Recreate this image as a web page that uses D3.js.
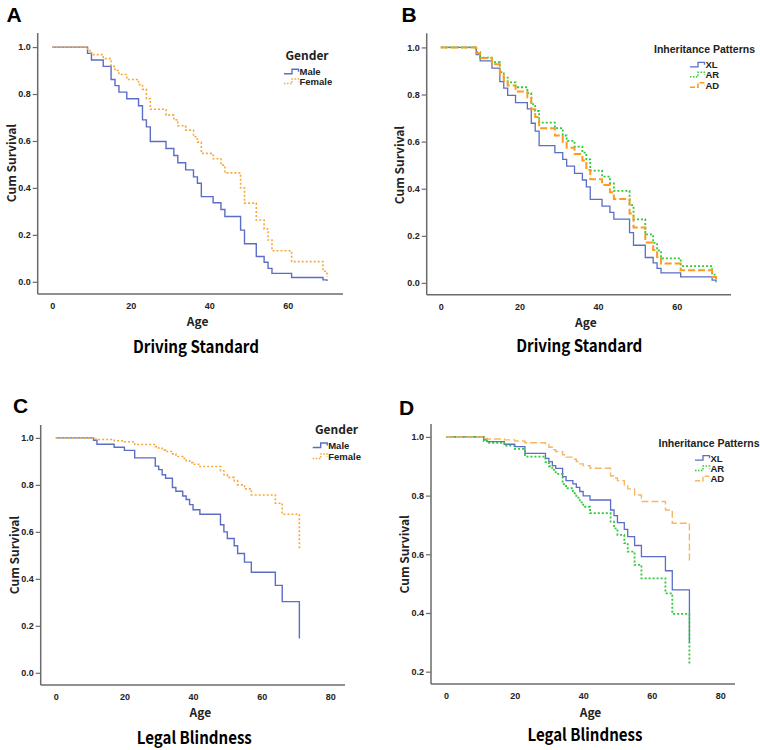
<!DOCTYPE html>
<html><head><meta charset="utf-8">
<script src="https://cdn.jsdelivr.net/npm/d3@7"></script>
<style>
body{margin:0;background:#fff;}
svg{display:block;}
</style></head>
<body>
<svg id="chart" width="760" height="750"></svg>
<script>
// ---------- DATA ----------
const agesDriving = [0,9,10,13,15,16,17,19,22,23,24,25,29,31,32,34,36,37,38,41,43,44,48,49,52,54,55,56,61,69,70];
const drivingMale   = [1,0.973,0.945,0.918,0.862,0.836,0.808,0.78,0.75,0.69,0.66,0.598,0.568,0.538,0.507,0.477,0.447,0.42,0.363,0.337,0.308,0.278,0.22,0.162,0.108,0.083,0.057,0.036,0.018,0.008,0.003];
const drivingFemale = [1,0.985,0.968,0.951,0.918,0.9,0.883,0.862,0.84,0.82,0.78,0.735,0.71,0.69,0.665,0.646,0.618,0.595,0.547,0.524,0.497,0.464,0.40,0.335,0.263,0.225,0.178,0.132,0.086,0.045,0.02];
const drivingXL = [1,0.97,0.943,0.912,0.855,0.827,0.796,0.766,0.739,0.678,0.645,0.583,0.553,0.525,0.496,0.465,0.437,0.408,0.355,0.326,0.3,0.271,0.214,0.16,0.108,0.085,0.062,0.043,0.026,0.012,0.003];
const drivingAR = [1,0.98,0.957,0.937,0.895,0.872,0.852,0.831,0.806,0.759,0.73,0.681,0.657,0.626,0.603,0.579,0.553,0.525,0.477,0.451,0.423,0.391,0.33,0.27,0.206,0.17,0.138,0.104,0.071,0.035,0.01];
const drivingAD = [1,0.975,0.955,0.929,0.884,0.86,0.838,0.813,0.787,0.738,0.705,0.657,0.626,0.6,0.574,0.547,0.52,0.48,0.44,0.416,0.385,0.356,0.295,0.235,0.172,0.14,0.11,0.082,0.054,0.025,0.005];

const agesBlind = [0,11,12,17,20,23,29,30,31,32,34,35,37,38,39,40,42,48,49,50,52,53,55,57,64,66,71];
const blindMale   = [1,0.99,0.973,0.96,0.947,0.915,0.88,0.865,0.843,0.828,0.789,0.773,0.753,0.738,0.716,0.694,0.675,0.63,0.6,0.572,0.541,0.508,0.471,0.428,0.372,0.303,0.146];
const blindFemale = [1,0.995,0.993,0.988,0.984,0.972,0.963,0.956,0.948,0.942,0.932,0.921,0.913,0.903,0.895,0.888,0.878,0.86,0.843,0.832,0.818,0.8,0.783,0.757,0.722,0.675,0.53];
const blindXL = [1,0.99,0.984,0.975,0.967,0.944,0.927,0.916,0.902,0.893,0.865,0.851,0.84,0.828,0.814,0.799,0.785,0.751,0.732,0.708,0.685,0.66,0.63,0.592,0.544,0.479,0.30];
const blindAR = [1,0.986,0.98,0.97,0.959,0.933,0.914,0.9,0.888,0.874,0.839,0.825,0.808,0.793,0.777,0.762,0.74,0.711,0.688,0.666,0.638,0.609,0.564,0.518,0.467,0.397,0.225];
const blindAD = [1,0.995,0.993,0.99,0.986,0.98,0.974,0.965,0.956,0.95,0.939,0.931,0.924,0.916,0.908,0.902,0.893,0.867,0.86,0.851,0.836,0.823,0.802,0.78,0.751,0.706,0.569];

const xTicksDriving = [0,20,40,60];
const xTicksBlind = [0,20,40,60,80];
const yTicksFull = [0.0,0.2,0.4,0.6,0.8,1.0];
const yTicksD = [0.2,0.4,0.6,0.8,1.0];
const genderNames = ["Male","Female"];
const patternNames = ["XL","AR","AD"];
const panelLetters = ["A","B","C","D"];
const panelTitles = ["Driving Standard","Driving Standard","Legal Blindness","Legal Blindness"];

// ---------- STYLES ----------
const BLUE = "#5a6ec6", ORANGE_DOT = "#f7a83c", GREEN = "#2fc93a", ORANGE_B = "#ff9a1f", ORANGE_D = "#f8b664";
const styleMale   = {color:BLUE, width:1.4, dash:null};
const styleFemale = {color:ORANGE_DOT, width:1.6, dash:"2,2"};
const styleXL = {color:BLUE, width:1.3, dash:null};
const styleAR = {color:GREEN, width:1.8, dash:"2,2"};
const styleADB = {color:ORANGE_B, width:2, dash:"7,3"};
const styleADD = {color:ORANGE_D, width:1.4, dash:"7,3"};

const panels = [
  {letter:panelLetters[0], title:panelTitles[0], ages:agesDriving, xTicks:xTicksDriving, yTicks:yTicksFull,
   xd:[-3.7,74.1], yd:[-0.052,1.06], left:37.7, right:343, top:33, bottom:294,
   series:[[drivingMale,styleMale],[drivingFemale,styleFemale]],
   legendTitle:"Gender", legendNames:genderNames, legendTitleX:307, legendTitleY:60, legendTitleSize:12, legendTitleWeight:600,
   legX:284, legY:[75.3,85], letterX:6.5, letterY:22,
   ageY:326, cumX:16, cumY:163, titleX:196, titleY:352.5, titleLen:126},
  {letter:panelLetters[1], title:panelTitles[1], ages:agesDriving, xTicks:xTicksDriving, yTicks:yTicksFull,
   xd:[-3.6,73.8], yd:[-0.05,1.06], left:426.7, right:731, top:33.3, bottom:294.7,
   series:[[drivingXL,styleXL],[drivingAR,styleAR],[drivingAD,styleADB]],
   legendTitle:"Inheritance Patterns", legendNames:patternNames, legendTitleX:704.5, legendTitleY:53.3, legendTitleSize:10.5, legendTitleWeight:700,
   legX:690, legY:[68.3,78.3,88.7], letterX:401.5, letterY:22,
   ageY:326.7, cumX:404, cumY:165, titleX:579.3, titleY:351.7, titleLen:126},
  {letter:panelLetters[2], title:panelTitles[2], ages:agesBlind, xTicks:xTicksBlind, yTicks:yTicksFull,
   xd:[-4.4,84.3], yd:[-0.052,1.055], left:40.7, right:345, top:425, bottom:685,
   series:[[blindMale,styleMale],[blindFemale,styleFemale]],
   legendTitle:"Gender", legendNames:genderNames, legendTitleX:336.5, legendTitleY:434, legendTitleSize:12, legendTitleWeight:600,
   legX:312.7, legY:[449,460], letterX:13, letterY:412.7,
   ageY:716.7, cumX:18.5, cumY:555, titleX:194.3, titleY:744, titleLen:115},
  {letter:panelLetters[3], title:panelTitles[3], ages:agesBlind, xTicks:xTicksBlind, yTicks:yTicksD,
   xd:[-4.4,84.3], yd:[0.158,1.044], left:431, right:735, top:424, bottom:684,
   series:[[blindXL,styleXL],[blindAR,styleAR],[blindAD,styleADD]],
   legendTitle:"Inheritance Patterns", legendNames:patternNames, legendTitleX:709, legendTitleY:447.3, legendTitleSize:10.5, legendTitleWeight:700,
   legX:695, legY:[461.7,472,482.3], letterX:399, letterY:415,
   ageY:716.7, cumX:409, cumY:554.3, titleX:585, titleY:740.7, titleLen:115}
];

const svg = d3.select("#chart");
const TICKFONT = "'Liberation Sans Narrow','Arial Narrow','Liberation Sans',sans-serif";
const CJK = "'Noto Sans CJK KR','Noto Sans',sans-serif";

panels.forEach(p => {
  const x = d3.scaleLinear().domain(p.xd).range([p.left, p.right]);
  const y = d3.scaleLinear().domain(p.yd).range([p.bottom, p.top]);
  const g = svg.append("g");

  // axes
  const xAxis = d3.axisBottom(x).tickValues(p.xTicks).tickFormat(d3.format("d")).tickSize(0).tickPadding(9);
  const gx = g.append("g").attr("transform", `translate(0,${p.bottom})`).call(xAxis);
  const yAxis = d3.axisLeft(y).tickValues(p.yTicks).tickFormat(d3.format(".1f")).tickSize(5).tickPadding(2);
  const gy = g.append("g").attr("transform", `translate(${p.left},0)`).call(yAxis);
  [gx, gy].forEach(ax => {
    ax.select(".domain").attr("stroke", "#6b6b6b").attr("stroke-width", 1.5);
    ax.selectAll(".tick line").attr("stroke", "#6b6b6b").attr("stroke-width", 1.2);
    ax.selectAll(".tick text").attr("fill", "#222").style("font-family", TICKFONT)
      .style("font-size", "9px").style("font-weight", "700");
  });
  gx.select(".domain").attr("d", `M${p.left},0H${p.right}`);
  gy.select(".domain").attr("d", `M0,${p.top}V${p.bottom}`);

  // curves
  const line = d3.line().x(d => x(d[0])).y(d => y(d[1])).curve(d3.curveStepAfter);
  p.series.forEach(([vals, st]) => {
    const pts = p.ages.map((a, i) => [a, vals[i]]);
    g.append("path").attr("d", line(pts)).attr("fill", "none")
      .attr("stroke", st.color).attr("stroke-width", st.width)
      .attr("stroke-dasharray", st.dash);
  });

  // legend
  g.append("text").attr("x", p.legendTitleX).attr("y", p.legendTitleY).attr("text-anchor", "middle")
    .style("font-family", p.legendTitleWeight === 700 ? TICKFONT : CJK)
    .style("font-size", p.legendTitleSize + "px").style("font-weight", p.legendTitleWeight)
    .attr("fill", "#222").text(p.legendTitle);
  p.legendNames.forEach((nm, i) => {
    const st = p.series[i][1];
    const ly = p.legY[i] - 3.5;
    const x0 = p.legX;
    g.append("path").attr("d", `M${x0},${ly + 2}H${x0 + 8}V${ly - 2.5}H${x0 + 14.5}V${ly}`)
      .attr("fill", "none").attr("stroke", st.color).attr("stroke-width", Math.min(st.width, 1.5))
      .attr("stroke-dasharray", st.dash ? (st.dash === "2,2" ? "1.5,1.5" : "5,2") : null);
    g.append("text").attr("x", x0 + 15.5).attr("y", p.legY[i])
      .style("font-family", TICKFONT).style("font-size", "9.5px").style("font-weight", "700")
      .attr("fill", "#222").text(nm);
  });

  // titles
  g.append("text").attr("x", p.letterX).attr("y", p.letterY)
    .style("font-family", "'Liberation Sans',Arial,sans-serif").style("font-size", "21px").style("font-weight", "700")
    .attr("fill", "#000").text(p.letter);
  g.append("text").attr("x", (x(p.xTicks[0]) + p.right) / 2).attr("y", p.ageY).attr("text-anchor", "middle")
    .style("font-family", CJK).style("font-size", "12px").style("font-weight", "700").attr("fill", "#222").text("Age");
  g.append("text").attr("transform", `translate(${p.cumX},${p.cumY}) rotate(-90)`).attr("text-anchor", "middle")
    .style("font-family", CJK).style("font-size", "12px").style("font-weight", "700").attr("fill", "#222").text("Cum Survival");
  g.append("text").attr("x", p.titleX).attr("y", p.titleY).attr("text-anchor", "middle")
    .attr("textLength", p.titleLen).attr("lengthAdjust", "spacingAndGlyphs")
    .style("font-family", CJK).style("font-size", "17px").style("font-weight", "700").attr("fill", "#000").text(p.title);
});
</script>
</body></html>
